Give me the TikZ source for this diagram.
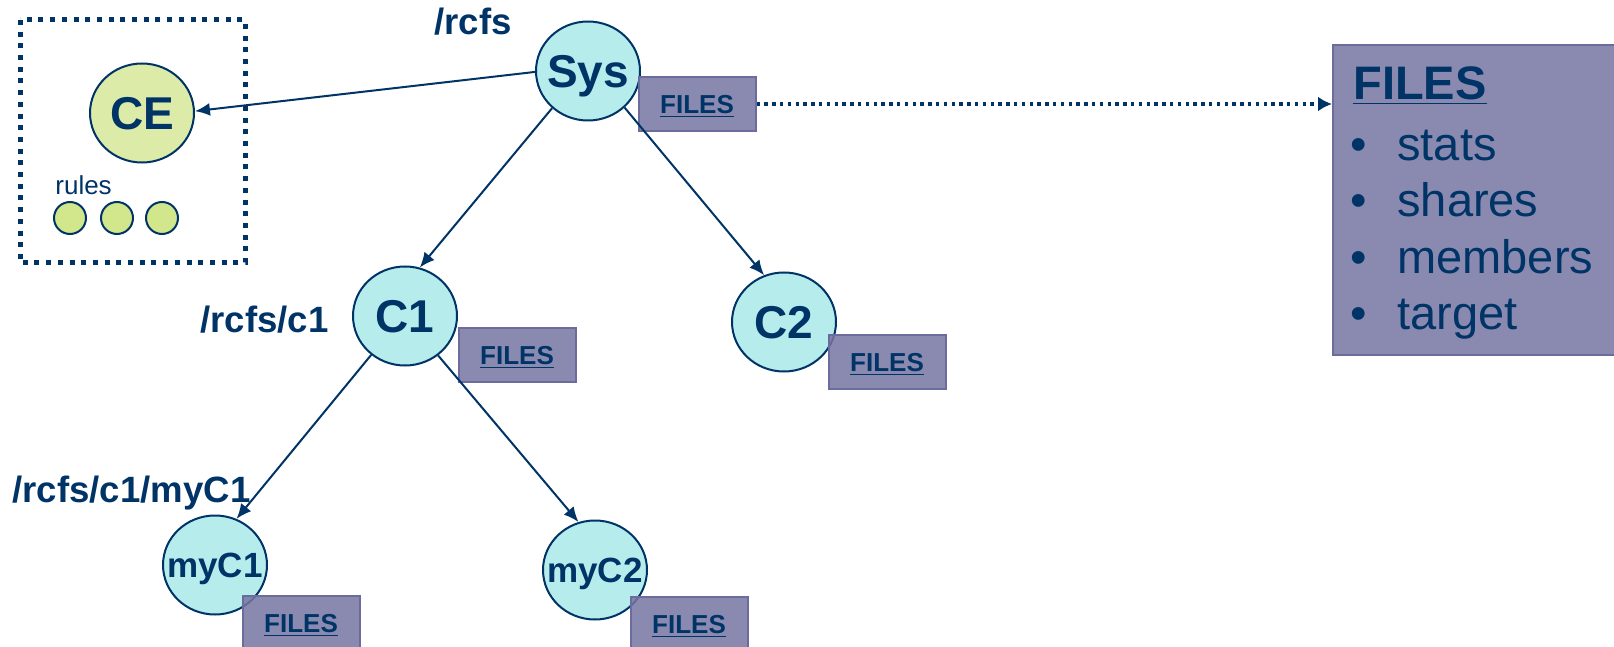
\documentclass[tikz,border=0pt]{standalone}
\usepackage{fontspec}
\setmainfont{Liberation Sans}
\usepackage{tikz}
\usetikzlibrary{arrows.meta,shapes.geometric}

\definecolor{navy}{RGB}{0,51,102}
\definecolor{cfill}{RGB}{182,236,236}
\definecolor{cefill}{RGB}{220,235,168}
\definecolor{rulefill}{RGB}{210,230,140}
\definecolor{boxfill}{RGB}{117,117,162}
\definecolor{boxline}{RGB}{108,108,156}

% text that does not widen its node
\newcommand{\nm}[1]{\makebox[0pt]{#1}}

\begin{document}
\begin{tikzpicture}[x=0.5pt,y=-0.5pt,>={Latex[length=7.5pt,width=6.5pt]},
    class/.style={ellipse,draw=navy,line width=1pt,fill=cfill,inner sep=0pt,
        minimum width=52pt,minimum height=49.5pt,text=navy,
        font=\fontsize{23}{23}\selectfont\bfseries,text height=16.5pt,text depth=0pt},
    leaf/.style={class,font=\fontsize{17.5}{17.5}\selectfont\bfseries,text height=12.5pt},
    files/.style={rectangle,draw=boxline,line width=1pt,fill=boxfill,fill opacity=0.85,
        text opacity=1,minimum width=58.5pt,minimum height=27pt,text=navy,
        font=\fontsize{13}{13}\selectfont\bfseries,text height=9.3pt,text depth=0pt},
    pathlbl/.style={text=navy,font=\fontsize{18.3}{18.3}\selectfont\bfseries,inner sep=0pt},
    bigtxt/.style={text=navy,font=\fontsize{23.5}{23.5}\selectfont,inner sep=0pt},
    link/.style={->,draw=navy,line width=1pt}]
\useasboundingbox (0,0) rectangle (1614,647);

% classification engine with its rules
\draw[navy,line width=2.5pt,dash pattern=on 2.5pt off 3.35pt] (20,20) rectangle (245,263);
\node[class,fill=cefill] (CE) at (142,113) {\nm{CE}};
\node[text=navy,font=\fontsize{13}{13}\selectfont,inner sep=0pt,anchor=base west] (rules) at (55,195) {rules};
\foreach \x [count=\i] in {70,117,162}
  \node[circle,draw=navy,line width=1pt,fill=rulefill,minimum size=16pt,inner sep=0pt] (rule\i) at (\x,218) {};

% the class tree
\node[class] (Sys) at (588,71) {\nm{Sys}};
\node[class] (C1)  at (405,316) {\nm{C1}};
\node[class] (C2)  at (784,322) {\nm{C2}};
\node[leaf]  (myC1) at (215,565) {\nm{myC1}};
\node[leaf]  (myC2) at (595,570) {\nm{myC2}};

\node[pathlbl,anchor=base west] (lblSys)  at (434,35)  {/rcfs};
\node[pathlbl,anchor=base west] (lblC1)   at (200,332) {/rcfs/c1};
\node[pathlbl,anchor=base west] (lblmyC1) at (12,502)  {/rcfs/c1/myC1};

\node[files] (filesSys)  at (697,104) {\underline{FILES}};
\node[files] (filesC1)   at (517,355) {\underline{FILES}};
\node[files] (filesC2)   at (887,362) {\underline{FILES}};
\node[files] (filesmyC1) at (301,623) {\underline{FILES}};
\node[files] (filesmyC2) at (689,624) {\underline{FILES}};

\draw[link] (Sys.181) -- (CE.2);
\draw[link] (Sys.226) -- (C1.73);
\draw[link] (Sys.315) -- (C2.113);
\draw[link] (C1.229) -- (myC1.65);
\draw[link] (C1.310) -- (myC2.109);

% contents of a FILES directory
\node[rectangle,draw=boxline,line width=1pt,fill=boxfill,fill opacity=0.85,
    minimum width=143.5pt,minimum height=155pt] (bigbox) at (1476.5,200) {};
\node[bigtxt,font=\fontsize{23.5}{23.5}\selectfont\bfseries,anchor=base west] (bigtitle) at (1353,100) {\underline{FILES}};
\foreach \entry [count=\i] in {stats,shares,members,target}{
  \node[bigtxt,anchor=base west] (bul\i) at (1350,105+56*\i) {•};
  \node[bigtxt,anchor=base west] (entry\i) at (1397,105+56*\i) {\entry};
}
\draw[->,navy,line width=1.7pt,dash pattern=on 1.7pt off 2.2pt,
    >={Latex[length=7pt,width=7.5pt]}] (filesSys.east) -- (filesSys.east -| bigbox.west);
\end{tikzpicture}
\end{document}
